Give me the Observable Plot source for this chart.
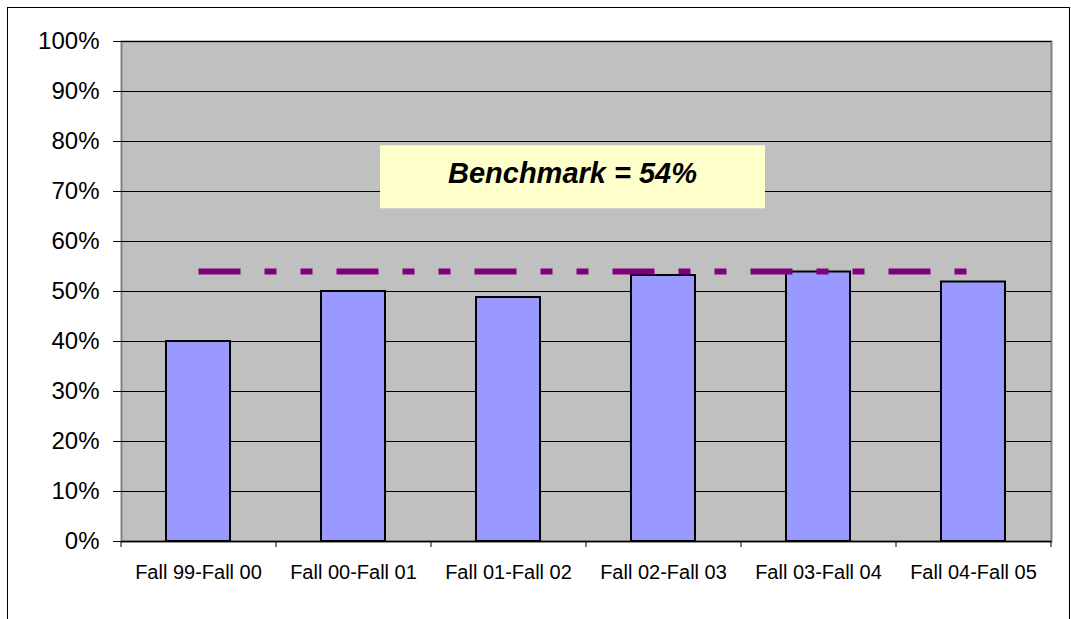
<!DOCTYPE html>
<html>
<head>
<meta charset="utf-8">
<script src="https://cdn.jsdelivr.net/npm/d3@7"></script>
<script src="https://cdn.jsdelivr.net/npm/@observablehq/plot@0.6"></script>
<style>
  html, body { margin: 0; padding: 0; background: #fff; }
  body { width: 1071px; height: 619px; position: relative; overflow: hidden; font-family: "Liberation Sans", Arial, sans-serif; }
  #border { position: absolute; left: 7px; top: 7px; width: 1063px; height: 700px; border: 1px solid #000; box-sizing: border-box; border-bottom: none; }
  #chart { position: absolute; left: 0; top: 0; }
</style>
</head>
<body>
<div id="border"></div>
<div id="chart"></div>
<script>
// ---- data ----
const periods = ["Fall 99-Fall 00", "Fall 00-Fall 01", "Fall 01-Fall 02", "Fall 02-Fall 03", "Fall 03-Fall 04", "Fall 04-Fall 05"];
const rates = [40, 50, 48.8, 53.2, 53.9, 51.9];
const benchmark = 54;
const benchmarkLabel = "Benchmark = 54%";
const yTicks = [0, 10, 20, 30, 40, 50, 60, 70, 80, 90, 100];
const gridTicks = [10, 20, 30, 40, 50, 60, 70, 80, 90, 100];

const table = periods.map((p, i) => ({period: p, value: rates[i]}));

// ---- layout ----
const W = 1071, H = 619;
const mL = 121, mR = 20, mT = 41, mB = 78;
const step = (W - mL - mR) / periods.length;

const chart = Plot.plot({
  width: W,
  height: H,
  marginLeft: mL,
  marginRight: mR,
  marginTop: mT,
  marginBottom: mB,
  style: {fontFamily: "'Liberation Sans', Arial, sans-serif", background: "transparent", overflow: "visible"},
  x: {domain: periods, paddingInner: 0.587, paddingOuter: 0.2935, align: 0.5, label: null},
  y: {domain: [0, 100], label: null},
  marks: [
    Plot.frame({fill: "#C0C0C0", stroke: "#808080", strokeWidth: 2}),
    Plot.gridY(gridTicks, {stroke: "#000", strokeOpacity: 1, strokeWidth: 1}),
    Plot.barY(table, {x: "period", y: "value", fill: "#9999FF", stroke: "#000", strokeWidth: 2}),
    Plot.ruleY([0], {stroke: "#000", strokeWidth: 1.5}),
    Plot.lineY(periods, {x: d => d, y: () => benchmark, stroke: "#800080", strokeWidth: 6, strokeDasharray: "42,24,12,24,12,24", strokeLinecap: "butt"}),
    Plot.axisY(yTicks, {tickFormat: d => d + "%", tickSize: 8, tickPadding: 14, fontSize: 24, stroke: "#000", fill: "#000", label: null}),
    Plot.axisX({tickSize: 0, tickPadding: 23, fontSize: 20, fill: "#000", label: null}),
    Plot.axisX({tickSize: 6, dx: -step / 2, text: null, stroke: "#000", label: null}),
    Plot.axisX(periods.slice(-1), {tickSize: 6, dx: step / 2, text: null, stroke: "#000", label: null}),
    Plot.text([benchmarkLabel], {text: d => d, y: 73.6, frameAnchor: "middle", dx: -14, fontSize: 29, fontWeight: "bold", fontStyle: "italic", fill: "#000", className: "bench-label"})
  ]
});
document.getElementById("chart").appendChild(chart);

// box behind the benchmark label, sized around the rendered text
const labelG = chart.querySelector("g.bench-label") || chart.querySelector(".bench-label");
if (labelG) {
  const t = labelG.querySelector("text") || labelG;
  const r = t.getBoundingClientRect();
  const s = chart.getBoundingClientRect();
  const cx = r.left - s.left + r.width / 2;
  const cy = r.top - s.top + r.height / 2 + 4;
  const bw = 385, bh = 63;
  const rect = document.createElementNS("http://www.w3.org/2000/svg", "rect");
  rect.setAttribute("x", cx - bw / 2);
  rect.setAttribute("y", cy - bh / 2);
  rect.setAttribute("width", bw);
  rect.setAttribute("height", bh);
  rect.setAttribute("fill", "#FFFFCC");
  labelG.parentNode.insertBefore(rect, labelG);
}
</script>
</body>
</html>
